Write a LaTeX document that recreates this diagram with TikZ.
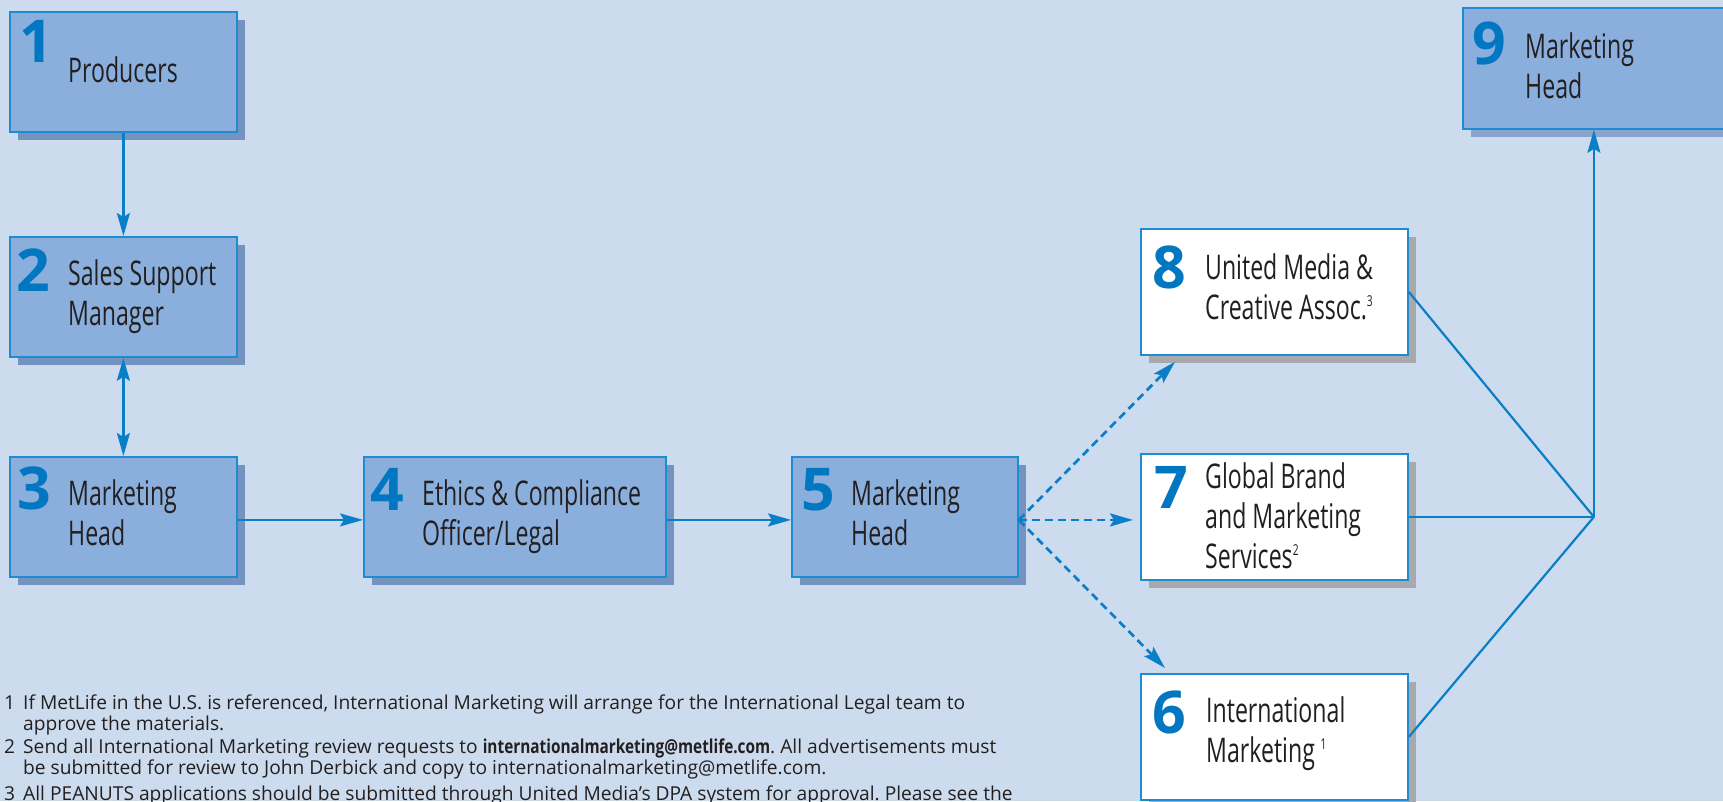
\documentclass[tikz,border=0pt]{standalone}
\usepackage{fontspec}
\setmainfont{Open Sans}
\newfontfamily\boxfont{Open Sans}[FakeStretch=0.68]
\newfontfamily\numfont{Open Sans}
\newfontfamily\mailfont{Open Sans}[FakeStretch=0.8]
\usetikzlibrary{arrows.meta,shadows,calc}
\frenchspacing

\definecolor{bgblue}{HTML}{CCDCEE}
\definecolor{boxblue}{HTML}{8AAFDC}
\definecolor{shadeblue}{HTML}{7394C1}
\definecolor{shadelight}{HTML}{89A3CC}
\definecolor{shadegray}{HTML}{A7A9AC}
\definecolor{edgeblue}{HTML}{1F8BD0}
\definecolor{lineblue}{HTML}{0A7EC6}
\definecolor{numblue}{HTML}{0077C0}
\definecolor{inkdark}{HTML}{231F20}

\newcommand{\supnum}[1]{\raisebox{13pt}{\fontsize{15}{15}\selectfont #1}}
\newcommand{\mailbold}[1]{{\mailfont\bfseries #1}}

\tikzset{
  boxbase/.style={draw=edgeblue, line width=1.8pt, inner sep=0pt, anchor=north west},
  bluebox/.style={boxbase, fill=boxblue,
    general shadow={fill=shadeblue, shadow xshift=8pt, shadow yshift=-8pt}},
  lightshadebox/.style={boxbase, fill=boxblue,
    general shadow={fill=shadelight, shadow xshift=8pt, shadow yshift=-8pt}},
  whitebox/.style={boxbase, fill=white,
    general shadow={fill=shadegray, shadow xshift=8pt, shadow yshift=-8pt}},
  numtxt/.style={anchor=base west, inner sep=0pt, text=numblue,
    font=\numfont\bfseries\fontsize{59}{59}\selectfont},
  % multi-line labels are anchored at the baseline of their last line
  labeltxt/.style={anchor=base west, inner sep=0pt, text=inkdark, align=left,
    font=\boxfont\fontsize{34}{40}\selectfont},
  foottxt/.style={anchor=base west, inner sep=0pt, text=inkdark, align=left,
    font=\fontsize{19.2}{21}\selectfont},
  link/.style={draw=lineblue, line width=2.2pt},
  conn/.style={link, -{Stealth[length=23pt,width=13pt,inset=4pt]}},
  dconn/.style={conn, line width=2.7pt, dash pattern=on 8pt off 5pt},
}

\begin{document}
\begin{tikzpicture}[x=1pt,y=-1pt]
\useasboundingbox (0,0) rectangle (1723,801);
\clip (0,0) rectangle (1723,801);
\fill[bgblue] (0,0) rectangle (1723,801);

% boxes
\node[bluebox, minimum width=227, minimum height=120] (b1) at (9,11) {};
\node[bluebox, minimum width=227, minimum height=120] (b2) at (9,236) {};
\node[bluebox, minimum width=227, minimum height=120] (b3) at (9,456) {};
\node[bluebox, minimum width=302, minimum height=120] (b4) at (363,456) {};
\node[bluebox, minimum width=226, minimum height=120] (b5) at (791,456) {};
\node[whitebox, minimum width=267, minimum height=126] (b8) at (1140,228) {};
\node[whitebox, minimum width=267, minimum height=126] (b7) at (1140,453) {};
\node[whitebox, minimum width=267, minimum height=126] (b6) at (1140,673) {};
\node[lightshadebox, minimum width=262, minimum height=121] (b9) at (1462,7) {};

% numbers
\node[numtxt] (n1) at ($(b1.north west)+(10,51)$) {1};
\node[numtxt] (n2) at ($(b2.north west)+(7,55)$) {2};
\node[numtxt] (n3) at ($(b3.north west)+(8,53)$) {3};
\node[numtxt] (n4) at ($(b4.north west)+(7,54)$) {4};
\node[numtxt] (n5) at ($(b5.north west)+(10,54)$) {5};
\node[numtxt] (n8) at ($(b8.north west)+(12,60)$) {8};
\node[numtxt] (n7) at ($(b7.north west)+(14,55)$) {7};
\node[numtxt] (n6) at ($(b6.north west)+(12,60)$) {6};
\node[numtxt] (n9) at ($(b9.north west)+(10,57)$) {9};

% labels
\node[labeltxt] (t1) at ($(b1.north west)+(59,71)$) {Producers};
\node[labeltxt] (t2) at ($(b2.north west)+(59,89)$) {Sales Support\\Manager};
\node[labeltxt] (t3) at ($(b3.north west)+(59,89)$) {Marketing\\Head};
\node[labeltxt] (t4) at ($(b4.north west)+(59,89)$) {Ethics \& Compliance\\Officer/Legal};
\node[labeltxt] (t5) at ($(b5.north west)+(60,89)$) {Marketing\\Head};
\node[labeltxt] (t8) at ($(b8.north west)+(65,91)$) {United Media \&\\Creative Assoc.\supnum{3}};
\node[labeltxt] (t7) at ($(b7.north west)+(65,115)$) {Global Brand\\and Marketing\\Services\supnum{2}};
\node[labeltxt] (t6) at ($(b6.north west)+(66,89)$) {International\\Marketing\,\supnum{1}};
\node[labeltxt] (t9) at ($(b9.north west)+(63,91)$) {Marketing\\Head};

% connectors
\draw[conn] (b1.south) -- (b2.north);
\draw[conn, {Stealth[length=23pt,width=13pt,inset=4pt]}-{Stealth[length=23pt,width=13pt,inset=4pt]}] (b2.south) -- (b3.north);
\draw[conn] ([yshift=-3pt]b3.east) -- ([yshift=-3pt]b4.west);
\draw[conn] ([yshift=-3pt]b4.east) -- ([yshift=-3pt]b5.west);

\coordinate (hub) at ([yshift=-3pt]b5.east);
\draw[dconn] (hub) -- ([xshift=35pt,yshift=-6pt]b8.south west);
\draw[dconn] (hub) -- ([xshift=-7pt,yshift=-3pt]b7.west);
\draw[dconn] (hub) -- ([xshift=25pt,yshift=5pt]b6.north west);

\coordinate (join) at (b9.south |- b7.east);
\draw[link] (b8.east) -- (join);
\draw[link] (b7.east) -- (join);
\draw[link] (b6.east) -- (join);
\draw[conn] (join) -- (b9.south);

% footnotes
\node[foottxt] (f1n) at (4,709) {1};
\node[foottxt] (f1) at (23,730) {If MetLife in the U.S. is referenced, International Marketing will arrange for the International Legal team to\\approve the materials.};
\node[foottxt] (f2n) at (4,753) {2};
\node[foottxt] (f2) at (23,774) {Send all International Marketing review requests to \mailbold{internationalmarketing@metlife.com}. All advertisements must\\be submitted for review to John Derbick and copy to internationalmarketing@metlife.com.};
\node[foottxt] (f3n) at (4,800) {3};
\node[foottxt] (f3) at (23,800) {All PEANUTS applications should be submitted through United Media’s DPA system for approval. Please see the};
\end{tikzpicture}
\end{document}
